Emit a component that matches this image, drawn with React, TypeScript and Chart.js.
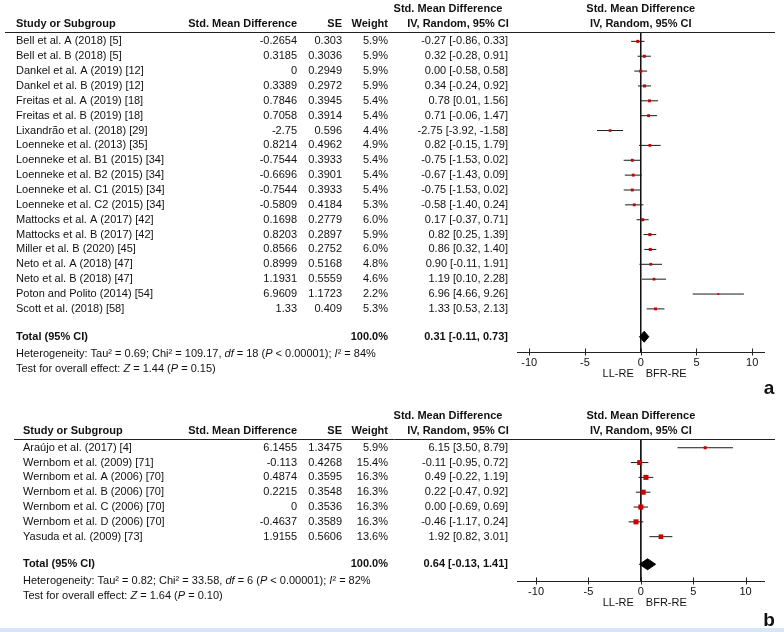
import React, { useEffect, useRef } from 'react';
import { Chart, registerables } from 'chart.js';

Chart.register(...registerables);

// ---------- Panel a data ----------
const studiesA = [
  'Bell et al. A (2018) [5]',
  'Bell et al. B (2018) [5]',
  'Dankel et al. A (2019) [12]',
  'Dankel et al. B (2019) [12]',
  'Freitas et al. A (2019) [18]',
  'Freitas et al. B (2019) [18]',
  'Lixandrão et al. (2018) [29]',
  'Loenneke et al. (2013) [35]',
  'Loenneke et al. B1 (2015) [34]',
  'Loenneke et al. B2 (2015) [34]',
  'Loenneke et al. C1 (2015) [34]',
  'Loenneke et al. C2 (2015) [34]',
  'Mattocks et al. A (2017) [42]',
  'Mattocks et al. B (2017) [42]',
  'Miller et al. B (2020) [45]',
  'Neto et al. A (2018) [47]',
  'Neto et al. B (2018) [47]',
  'Poton and Polito (2014) [54]',
  'Scott et al. (2018) [58]',
];
const smdA = [-0.2654, 0.3185, 0, 0.3389, 0.7846, 0.7058, -2.75, 0.8214, -0.7544, -0.6696, -0.7544, -0.5809, 0.1698, 0.8203, 0.8566, 0.8999, 1.1931, 6.9609, 1.33];
const seA = [0.303, 0.3036, 0.2949, 0.2972, 0.3945, 0.3914, 0.596, 0.4962, 0.3933, 0.3901, 0.3933, 0.4184, 0.2779, 0.2897, 0.2752, 0.5168, 0.5559, 1.1723, 0.409];
const weightA = [5.9, 5.9, 5.9, 5.9, 5.4, 5.4, 4.4, 4.9, 5.4, 5.4, 5.4, 5.3, 6.0, 5.9, 6.0, 4.8, 4.6, 2.2, 5.3];
const ciLowA = [-0.86, -0.28, -0.58, -0.24, 0.01, -0.06, -3.92, -0.15, -1.53, -1.43, -1.53, -1.40, -0.37, 0.25, 0.32, -0.11, 0.10, 4.66, 0.53];
const ciHighA = [0.33, 0.91, 0.58, 0.92, 1.56, 1.47, -1.58, 1.79, 0.02, 0.09, 0.02, 0.24, 0.71, 1.39, 1.40, 1.91, 2.28, 9.26, 2.13];
const totalA = [0.31, -0.11, 0.73]; // estimate, low, high
const hetA = [0.69, 109.17, 18, 84]; // Tau², Chi², df, I²
const overallA = [1.44, 0.15]; // Z, P

// ---------- Panel b data ----------
const studiesB = [
  'Araújo et al. (2017) [4]',
  'Wernbom et al. (2009) [71]',
  'Wernbom et al. A (2006) [70]',
  'Wernbom et al. B (2006) [70]',
  'Wernbom et al. C (2006) [70]',
  'Wernbom et al. D (2006) [70]',
  'Yasuda et al. (2009) [73]',
];
const smdB = [6.1455, -0.113, 0.4874, 0.2215, 0, -0.4637, 1.9155];
const seB = [1.3475, 0.4268, 0.3595, 0.3548, 0.3536, 0.3589, 0.5606];
const weightB = [5.9, 15.4, 16.3, 16.3, 16.3, 16.3, 13.6];
const ciLowB = [3.50, -0.95, -0.22, -0.47, -0.69, -1.17, 0.82];
const ciHighB = [8.79, 0.72, 1.19, 0.92, 0.69, 0.24, 3.01];
const totalB = [0.64, -0.13, 1.41];
const hetB = [0.82, 33.58, 6, 82];
const overallB = [1.64, 0.10];

const xTicks = [-10, -5, 0, 5, 10];
const favourLabels = ['LL-RE', 'BFR-RE'];

// ---------- layout (not data) ----------
const FONT = '11px "Liberation Sans", Arial, Helvetica, sans-serif';
const BOLD = 'bold ' + FONT;
const TEXT = '#111';

type PanelCfg = {
  studies: string[]; smd: number[]; se: number[]; weight: number[];
  lo: number[]; hi: number[]; total: number[]; het: number[]; overall: number[];
  letter: string; height: number; top: number;
  xMin: number; xMax: number; yMin: number; yMax: number;
  padTop: number; padBottom: number; nameX: number; ruleX0: number;
  hdr1: number; hdr2: number; totalRow: number; hetRow: number; testRow: number;
  letterY: number; blueBar: boolean;
};

const fmt = (v: number) => (v + (v >= 0 ? 1e-9 : -1e-9)).toFixed(2);

function drawRich(ctx: CanvasRenderingContext2D, parts: [string, boolean][], x: number, y: number) {
  let cx = x;
  ctx.textAlign = 'left';
  for (const [t, it] of parts) {
    ctx.font = (it ? 'italic ' : '') + FONT;
    ctx.fillText(t, cx, y);
    cx += ctx.measureText(t).width;
  }
}

function makePlugin(p: PanelCfg) {
  return {
    id: 'forestText',
    afterDraw(chart: any) {
      const ctx: CanvasRenderingContext2D = chart.ctx;
      const xs = chart.scales.x;
      const ys = chart.scales.y;
      const area = chart.chartArea;
      const txt = (s: string, x: number, y: number, align: CanvasTextAlign, font = FONT) => {
        ctx.font = font;
        ctx.textAlign = align;
        ctx.fillText(s, x, y);
      };
      ctx.save();
      ctx.fillStyle = TEXT;
      ctx.textBaseline = 'middle';
      const x0 = xs.getPixelForValue(0);
      const yH1 = ys.getPixelForValue(p.hdr1);
      const yH2 = ys.getPixelForValue(p.hdr2);
      // headers
      txt('Study or Subgroup', p.nameX, yH2, 'left', BOLD);
      txt('Std. Mean Difference', 297, yH2, 'right', BOLD);
      txt('SE', 342, yH2, 'right', BOLD);
      txt('Weight', 388, yH2, 'right', BOLD);
      txt('Std. Mean Difference', 448, yH1, 'center', BOLD);
      txt('IV, Random, 95% CI', 458, yH2, 'center', BOLD);
      txt('Std. Mean Difference', x0, yH1, 'center', BOLD);
      txt('IV, Random, 95% CI', x0, yH2, 'center', BOLD);
      // header rule
      ctx.strokeStyle = '#222';
      ctx.lineWidth = 1;
      ctx.beginPath();
      ctx.moveTo(p.ruleX0, Math.round(area.top) + 0.5);
      ctx.lineTo(775, Math.round(area.top) + 0.5);
      ctx.stroke();
      // rows
      p.studies.forEach((s, i) => {
        const y = ys.getPixelForValue(i);
        txt(s, p.nameX, y, 'left');
        txt(String(p.smd[i]), 297, y, 'right');
        txt(String(p.se[i]), 342, y, 'right');
        txt(p.weight[i].toFixed(1) + '%', 388, y, 'right');
        txt(`${fmt(p.smd[i])} [${fmt(p.lo[i])}, ${fmt(p.hi[i])}]`, 508, y, 'right');
      });
      // total
      const yT = ys.getPixelForValue(p.totalRow);
      txt('Total (95% CI)', p.nameX, yT, 'left', BOLD);
      const wSum = 100;
      txt(wSum.toFixed(1) + '%', 388, yT, 'right', BOLD);
      txt(`${fmt(p.total[0])} [${fmt(p.total[1])}, ${fmt(p.total[2])}]`, 508, yT, 'right', BOLD);
      // heterogeneity
      const [tau, chi, df, i2] = p.het;
      drawRich(ctx, [
        [`Heterogeneity: Tau² = ${tau.toFixed(2)}; Chi² = ${chi.toFixed(2)}, `, false],
        ['df', true], [` = ${df} (`, false], ['P', true], [' < 0.00001); ', false],
        ['I', true], [`² = ${i2}%`, false],
      ], p.nameX, ys.getPixelForValue(p.hetRow));
      const [z, pv] = p.overall;
      drawRich(ctx, [
        ['Test for overall effect: ', false], ['Z', true], [` = ${z.toFixed(2)} (`, false],
        ['P', true], [` = ${pv.toFixed(2)})`, false],
      ], p.nameX, ys.getPixelForValue(p.testRow));
      // axis
      const yb = Math.round(area.bottom) + 0.5;
      ctx.strokeStyle = '#222';
      ctx.beginPath();
      ctx.moveTo(area.left, yb);
      ctx.lineTo(area.right, yb);
      xTicks.forEach((t) => {
        const tx = Math.round(xs.getPixelForValue(t)) + 0.5;
        ctx.moveTo(tx, yb - 4);
        ctx.lineTo(tx, yb + 3);
      });
      ctx.stroke();
      xTicks.forEach((t) => txt(String(t), xs.getPixelForValue(t), yb + 10, 'center'));
      txt(favourLabels[0], x0 - 7, yb + 21, 'right');
      txt(favourLabels[1], x0 + 5, yb + 21, 'left');
      // panel letter
      txt(p.letter, 769, p.letterY, 'center', 'bold 19px "Liberation Sans", Arial, sans-serif');
      if (p.blueBar) {
        ctx.fillStyle = '#d6e6f6';
        ctx.fillRect(0, chart.height - 4, chart.width, 4);
      }
      ctx.restore();
    },
  };
}

function buildConfig(p: PanelCfg): any {
  const rowPx = 0; void rowPx;
  const [tEst, tLo, tHi] = p.total;
  const h = 0.37;
  const datasets: any[] = [];
  datasets.push({
    label: 'squares',
    data: p.smd.map((v, i) => ({ x: v, y: i })),
    showLine: false,
    pointStyle: 'rect',
    pointRadius: p.weight.map((w) => (1.25 * Math.sqrt(w)) / Math.SQRT2),
    pointBackgroundColor: '#cc0000',
    pointBorderColor: '#cc0000',
    pointBorderWidth: 0,
  });
  datasets.push({
    label: 'total',
    data: [
      { x: tLo, y: p.totalRow }, { x: tEst, y: p.totalRow - h }, { x: tHi, y: p.totalRow },
      { x: tEst, y: p.totalRow + h }, { x: tLo, y: p.totalRow },
    ],
    showLine: true,
    fill: 'shape',
    backgroundColor: '#000',
    borderColor: '#000',
    borderWidth: 1,
    pointRadius: 0,
    tension: 0,
  });
  p.studies.forEach((s, i) => {
    datasets.push({
      label: s,
      data: [{ x: p.lo[i], y: i }, { x: p.hi[i], y: i }],
      showLine: true,
      borderColor: '#1a1a1a',
      borderWidth: 1,
      pointRadius: 0,
    });
  });
  datasets.push({
    label: 'zero',
    data: [{ x: 0, y: p.yMin }, { x: 0, y: p.yMax }],
    showLine: true,
    borderColor: '#111',
    borderWidth: 1,
    pointRadius: 0,
  });
  return {
    type: 'scatter',
    data: { datasets },
    options: {
      responsive: false,
      animation: false,
      events: [],
      devicePixelRatio: 1,
      layout: { padding: { left: 517, right: 19, top: p.padTop, bottom: p.padBottom } },
      plugins: { legend: { display: false }, tooltip: { enabled: false } },
      scales: {
        x: { type: 'linear', min: p.xMin, max: p.xMax, display: false },
        y: { type: 'linear', min: p.yMin, max: p.yMax, reverse: true, display: false },
      },
    },
    plugins: [makePlugin(p)],
  };
}

const panelA: PanelCfg = {
  studies: studiesA, smd: smdA, se: seA, weight: weightA, lo: ciLowA, hi: ciHighA,
  total: totalA, het: hetA, overall: overallA, letter: 'a',
  height: 400, top: 0, xMin: -11.1, xMax: 11.15, yMin: -0.63, yMax: 20.9,
  padTop: 32, padBottom: 48, nameX: 16, ruleX0: 5,
  hdr1: -2.18, hdr2: -1.17, totalRow: 19.87, hetRow: 21.03, testRow: 22.04,
  letterY: 389, blueBar: false,
};

const panelB: PanelCfg = {
  studies: studiesB, smd: smdB, se: seB, weight: weightB, lo: ciLowB, hi: ciHighB,
  total: totalB, het: hetB, overall: overallB, letter: 'b',
  height: 232, top: 400, xMin: -11.82, xMax: 11.85, yMin: -0.59, yMax: 8.99,
  padTop: 39, padBottom: 51, nameX: 23, ruleX0: 14,
  hdr1: -2.15, hdr2: -1.13, totalRow: 7.86, hetRow: 8.99, testRow: 10.0,
  letterY: 221, blueBar: true,
};

function ForestPanel({ cfg }: { cfg: PanelCfg }) {
  const ref = useRef<HTMLCanvasElement>(null);
  useEffect(() => {
    const chart = new Chart(ref.current as HTMLCanvasElement, buildConfig(cfg));
    return () => chart.destroy();
  }, [cfg]);
  return (
    <canvas
      ref={ref}
      width={784}
      height={cfg.height}
      style={{ position: 'absolute', left: 0, top: cfg.top, width: 784, height: cfg.height }}
    />
  );
}

export default function App() {
  return (
    <div style={{ position: 'absolute', left: 0, top: 0, width: 784, height: 632, background: '#fff', overflow: 'hidden' }}>
      <ForestPanel cfg={panelA} />
      <ForestPanel cfg={panelB} />
    </div>
  );
}
